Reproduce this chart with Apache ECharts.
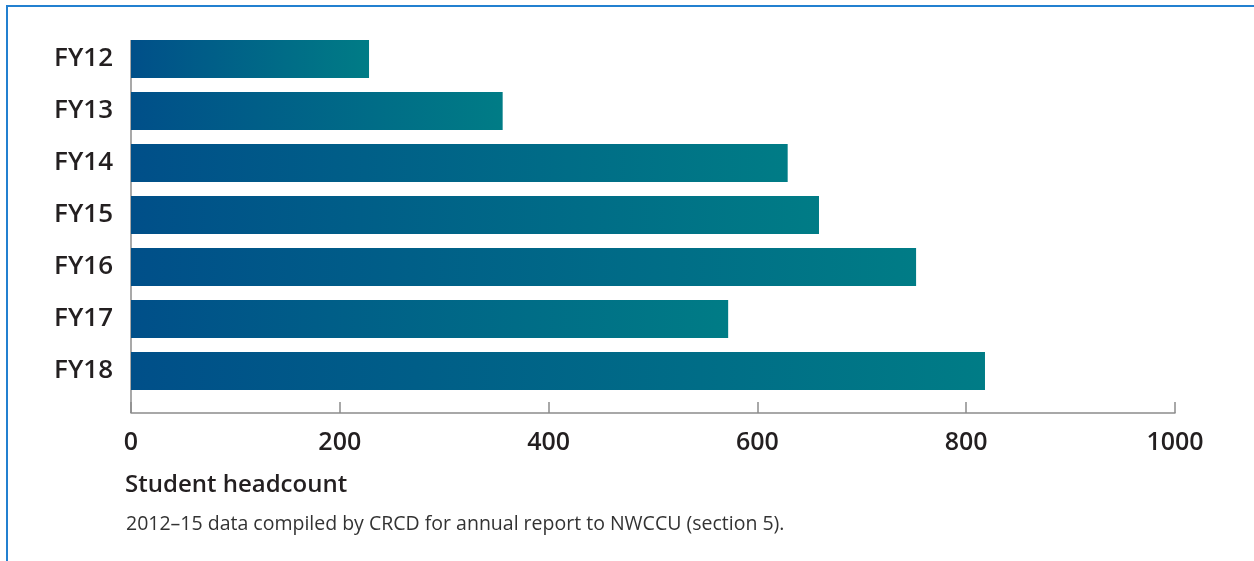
<!DOCTYPE html>
<html>
<head>
<meta charset="utf-8">
<script src="https://cdn.jsdelivr.net/npm/echarts@6/dist/echarts.min.js"></script>
<style>
  html, body { margin: 0; padding: 0; background: #fff; overflow: hidden; width: 1254px; height: 561px; }
  #frame {
    position: absolute;
    left: 6px;
    top: 5px;
    right: -10px;
    bottom: -10px;
    border-top: 2px solid #2380d0;
    border-left: 2px solid #2380d0;
  }
  #chart-box {
    position: absolute;
    left: 0;
    top: 0;
    width: 1254px;
    height: 561px;
  }
</style>
</head>
<body>
<div id="frame"></div>
<div id="chart-box"></div>
<script>
const years = ["FY12", "FY13", "FY14", "FY15", "FY16", "FY17", "FY18"];
const headcount = [228, 356, 629, 659, 752, 572, 818];
const xTicks = [0, 200, 400, 600, 800, 1000];

const axisTitle = "Student headcount";
const footnote = "2012\u201315 data compiled by CRCD for annual report to NWCCU (section 5).";

const fontFamily = '"Open Sans", "DejaVu Sans", sans-serif';
const gridLeft = 131;
const gridTop = 33;
const gridBottom = 164;
const xOffset = 16;
const axisGray = "#8c8c8c";

const chart = echarts.init(document.getElementById("chart-box"));
const option = {
  animation: false,
  title: [
    {
      text: axisTitle,
      left: 120,
      top: 468,
      textStyle: {
        fontFamily: fontFamily,
        fontSize: 24,
        fontWeight: 600,
        color: "#231f20",
      },
    },
    {
      text: footnote,
      left: 121,
      top: 509,
      textStyle: {
        fontFamily: fontFamily,
        fontSize: 19.5,
        fontWeight: 400,
        color: "#333",
      },
    },
  ],
  grid: {
    left: gridLeft,
    right: 79,
    top: gridTop,
    bottom: gridBottom,
  },
  xAxis: {
    type: "value",
    min: xTicks[0],
    max: xTicks[xTicks.length - 1],
    interval: xTicks[1] - xTicks[0],
    offset: xOffset,
    axisLine: { show: true, lineStyle: { color: axisGray, width: 1.5 } },
    axisTick: { show: true, inside: true, length: 11, lineStyle: { color: axisGray, width: 1.5 } },
    splitLine: { show: false },
    axisLabel: {
      margin: 17,
      fontFamily: fontFamily,
      fontSize: 25,
      fontWeight: 600,
      color: "#231f20",
      formatter: (v) => String(v),
    },
  },
  yAxis: {
    type: "category",
    inverse: true,
    data: years,
    axisLine: { show: false },
    axisTick: { show: false },
    axisLabel: {
      margin: 18,
      fontFamily: fontFamily,
      fontSize: 26,
      fontWeight: 600,
      color: "#231f20",
    },
  },
  graphic: [
    {
      // y axis line runs down to the offset x axis
      type: "line",
      z: 0,
      shape: { x1: gridLeft, y1: gridTop + 7, x2: gridLeft, y2: 561 - gridBottom + xOffset },
      style: { stroke: axisGray, lineWidth: 1.5 },
    },
  ],
  series: [
    {
      type: "bar",
      data: headcount,
      barWidth: 38,
      z: 3,
      itemStyle: {
        color: new echarts.graphic.LinearGradient(0, 0, 1, 0, [
          { offset: 0, color: "#004f89" },
          { offset: 1, color: "#007c86" },
        ]),
      },
    },
  ],
};
chart.setOption(option);
</script>
</body>
</html>
